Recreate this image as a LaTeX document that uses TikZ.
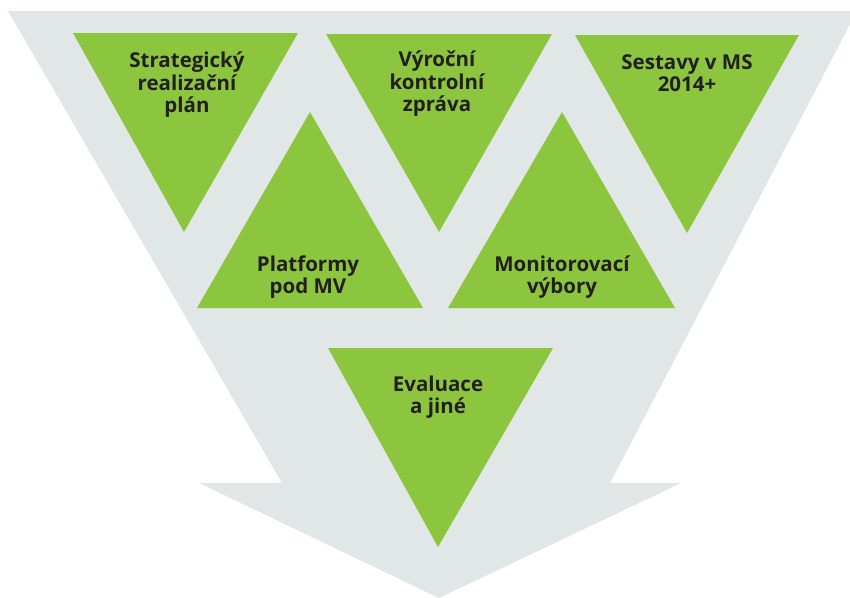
\documentclass[tikz,border=0pt]{standalone}
\usepackage{fontspec}
\setmainfont{Open Sans}
\definecolor{arrowgray}{HTML}{E1E6E6}
\definecolor{leafgreen}{HTML}{8CC63F}
\definecolor{textdark}{HTML}{231F20}
\tikzset{
  tri/.style={fill=leafgreen, draw=none},
  lbl/.style={align=center, text=textdark, font=\fontsize{20.5}{22.5}\selectfont\bfseries, inner sep=0pt}
}
\begin{document}
\begin{tikzpicture}[x=1pt,y=-1pt]
\useasboundingbox (0,0) rectangle (850,597);
\fill[arrowgray] (8,11) -- (857,11) -- (610,483) -- (681,483) -- (439,598) -- (199,483) -- (282,483) -- cycle;
% down triangles
\fill[tri] (73,33) -- (298,33) -- (184,232) -- cycle;
\fill[tri] (326,34) -- (552,34) -- (439,232) -- cycle;
\fill[tri] (575,35) -- (799,35) -- (687,233) -- cycle;
% up triangles
\fill[tri] (310,112) -- (423,308) -- (197,308) -- cycle;
\fill[tri] (562,112) -- (675,308) -- (448,308) -- cycle;
% bottom triangle
\fill[tri] (328,348) -- (553,348) -- (438,547) -- cycle;
% labels
\node[lbl] (t1) at (187,85) {Strategický\\realizační\\plán};
\node[lbl] (t2) at (437,84) {Výroční\\kontrolní\\zpráva};
\node[lbl] (t3) at (687,73) {Sestavy v MS\\2014+};
\node[lbl] (t4) at (308,277) {Platformy\\pod MV};
\node[lbl] (t5) at (562,277) {Monitorovací\\výbory};
\node[lbl] (t6) at (438,397) {Evaluace\\a jiné};
\end{tikzpicture}
\end{document}
